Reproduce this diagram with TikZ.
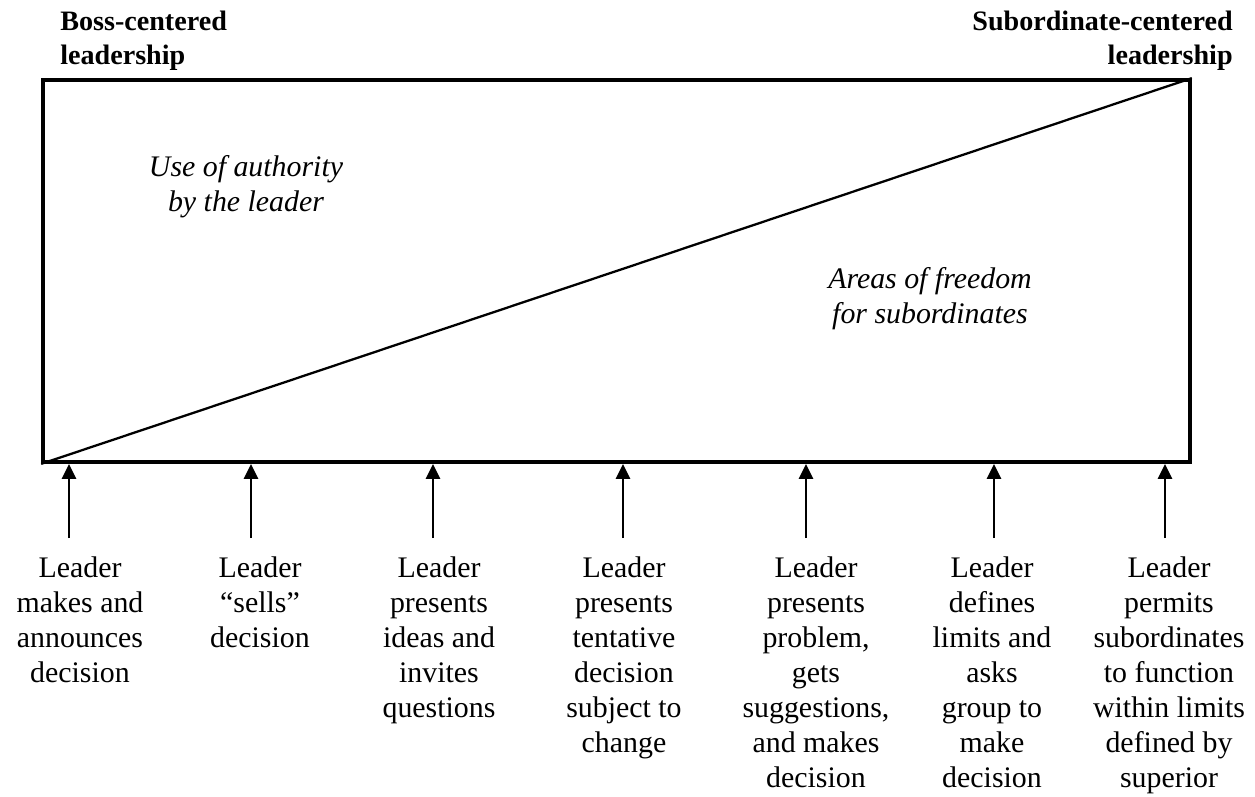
\documentclass[tikz,border=0pt]{standalone}
\usepackage{fontspec}
\setmainfont{Liberation Serif}
\usetikzlibrary{arrows.meta}
\begin{document}
\begin{tikzpicture}[x=0.02cm,y=-0.02cm,>={Triangle[length=0.3cm,width=0.28cm]},step label/.style={font=\fontsize{17}{20}\selectfont, align=center, anchor=north, inner sep=0pt},side/.style={font=\fontsize{16}{19}\selectfont\bfseries, inner sep=0pt},area/.style={font=\fontsize{17}{20}\selectfont\itshape, align=center, anchor=north, inner sep=0pt}]
\useasboundingbox (0,0) rectangle (1255,797);
\node[draw, line width=2.2pt, minimum width=22.94cm, minimum height=7.64cm, inner sep=0pt] (frame) at (616.5,271) {};\draw[line width=1.3pt] (frame.south west) -- (frame.north east);
\node[side, align=left, anchor=north west] (boss) at (60,11) {Boss-centered\\leadership};\node[side, align=right, anchor=north east] (sub) at (1233,11) {Subordinate-centered\\leadership};
\node[area] (authority) at (246,155) {Use of authority\\by the leader};\node[area] (freedom) at (930,267) {Areas of freedom\\for subordinates};
\node[step label] (l1) at (80,556) {Leader\\makes and\\announces\\decision};\node[step label] (l2) at (260,556) {Leader\\“sells”\\decision};\node[step label] (l3) at (439,556) {Leader\\presents\\ideas and\\invites\\questions};\node[step label] (l4) at (624,556) {Leader\\presents\\tentative\\decision\\subject to\\change};
\node[step label] (l5) at (816,556) {Leader\\presents\\problem,\\gets\\suggestions,\\and makes\\decision};\node[step label] (l6) at (992,556) {Leader\\defines\\limits and\\asks\\group to\\make\\decision};\node[step label] (l7) at (1169,556) {Leader\\permits\\subordinates\\to function\\within limits\\defined by\\superior};
\foreach \i/\x in {1/69,2/251,3/433,4/623,5/806,6/994,7/1165}{\coordinate (a\i) at (\x,538);\draw[->, line width=1.5pt] (a\i) -- (a\i |- frame.south);}
\end{tikzpicture}
\end{document}
